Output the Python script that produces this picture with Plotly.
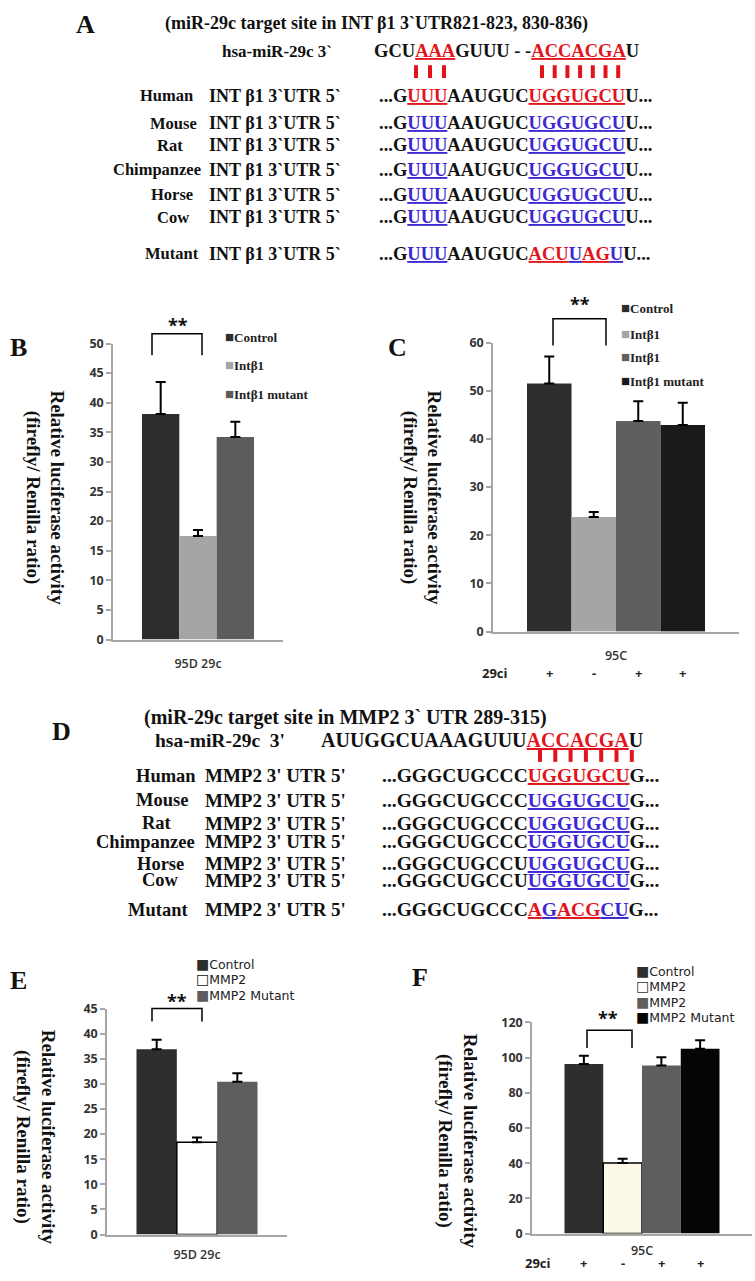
import plotly.graph_objects as go

# ------------------------------------------------------------------ data
b_category = "95D 29c"
b_groups = ["Control", "Intβ1", "Intβ1 mutant"]
b_values = [38.1, 17.5, 34.2]
b_errors = [5.4, 1.0, 2.6]

c_category = "95C"
c_groups = ["Control", "Intβ1", "Intβ1", "Intβ1 mutant"]
c_values = [51.5, 23.8, 43.7, 42.9]
c_errors = [5.6, 1.0, 4.1, 4.6]
c_29ci = ["+", "-", "+", "+"]

e_category = "95D 29c"
e_groups = ["Control", "MMP2", "MMP2 Mutant"]
e_values = [36.9, 18.4, 30.4]
e_errors = [1.9, 0.9, 1.7]

f_category = "95C"
f_groups = ["Control", "MMP2", "MMP2", "MMP2 Mutant"]
f_values = [96.3, 40.1, 95.5, 105.0]
f_errors = [4.7, 2.4, 4.7, 4.8]
f_29ci = ["+", "-", "+", "+"]

a_species = ["Human", "Mouse", "Rat", "Chimpanzee", "Horse", "Cow", "Mutant"]
d_species = ["Human", "Mouse", "Rat", "Chimpanzee", "Horse", "Cow", "Mutant"]

y_title = "Relative luciferase activity<br>(firefly/ Renilla ratio)"

# ------------------------------------------------------------------ helpers
W, H = 755, 1281
def px(x): return x / W
def py(y): return 1 - y / H

SERIF = "Liberation Serif"
SANS = "Open Sans"
RED = "#e3131b"
BLUE = "#3b27d4"
AXC = "#a6a6a6"

def ucol(t, c):
    return f"<span style='color:{c};text-decoration:underline;text-decoration-color:#111'>{t}</span>"

def sq(c, ch="■", size=15):
    return f"<span style='color:{c};font-size:{size}px'>{ch}</span>"

fig = go.Figure()
ann = []
shapes = []

def text(x, y, t, size, family=SERIF, bold=True, xa="center", ya="middle", color="#111", angle=0):
    ann.append(dict(x=px(x), y=py(y), xref="paper", yref="paper", text=t, showarrow=False,
                    xanchor=xa, yanchor=ya, textangle=angle, borderpad=0,
                    font=dict(family=family, size=size, color=color, weight="bold" if bold else "normal")))

BARGAP = 0.3

def add_panel(n, cat, groups, values, errors, colors, outlines, xdom, ydom, yrange, dtick, grp_px, standoff):
    xa, ya = ("x" if n == 1 else f"x{n}"), ("y" if n == 1 else f"y{n}")
    for g, v, e, c, o in zip(groups, values, errors, colors, outlines):
        fig.add_trace(go.Bar(
            x=[cat], y=[v], name=g, xaxis=xa, yaxis=ya,
            marker=dict(color=c, line=dict(color="black" if o else c, width=1.5 if o else 0)),
            error_y=dict(type="data", symmetric=False, array=[e], arrayminus=[0],
                         color="black", thickness=2, width=5),
        ))
    dom_w = xdom[1] - xdom[0]
    span = (1 - BARGAP) * dom_w / grp_px
    sfx = "" if n == 1 else str(n)
    fig.layout["xaxis" + sfx] = dict(
        domain=[px(xdom[0]), px(xdom[1])], anchor=ya, type="category",
        range=[-span / 2, span / 2], showline=True, linecolor=AXC, linewidth=1.5,
        ticks="", showgrid=False, zeroline=False, ticklabelstandoff=standoff,
        tickfont=dict(family=SANS, size=12.5, color="#333", weight=600), fixedrange=True)
    fig.layout["yaxis" + sfx] = dict(
        domain=[py(ydom[0]), py(ydom[1])], anchor=xa, range=yrange, dtick=dtick,
        showline=True, linecolor=AXC, linewidth=1.5, ticks="outside", ticklen=5,
        tickcolor=AXC, tickwidth=1.5, showgrid=False, zeroline=False,
        tickfont=dict(family=SANS, size=12.5, color="#333", weight=700), fixedrange=True)
    return span

# ------------------------------------------------------------------ bar panels
add_panel(1, b_category, b_groups, b_values, b_errors,
          ["#2d2d2d", "#a5a5a5", "#5c5c5c"], [False, False, False],
          (113, 283), (639, 339), [0, 50], 5, 112, 12)
add_panel(2, c_category, c_groups, c_values, c_errors,
          ["#2d2d2d", "#a5a5a5", "#5f5f5f", "#1a1a1a"], [False, False, False, False],
          (493, 739), (631, 338), [0, 60], 10, 178, 12)
add_panel(3, e_category, e_groups, e_values, e_errors,
          ["#2d2d2d", "#ffffff", "#5d5d5d"], [False, True, False],
          (107, 287), (1242, 1013), [0, 45], 5, 121, 8)
add_panel(4, f_category, f_groups, f_values, f_errors,
          ["#2e2e2e", "#fdf9e8", "#5e5e5e", "#050505"], [False, True, False, False],
          (532, 752), (1241, 1027), [0, 120], 20, 155, 5)

# 29ci rows (placed under each bar through the axis scale)
def sign_row(xref, signs, ypix, label_x):
    n = len(signs)
    bw = (1 - BARGAP) / n
    for i, s in enumerate(signs):
        ann.append(dict(x=-(1 - BARGAP) / 2 + bw * (i + 0.5), y=py(ypix), xref=xref, yref="paper",
                        text=s, showarrow=False, xanchor="center", yanchor="middle",
                        font=dict(family=SANS, size=13, color="#222", weight="bold")))
    text(label_x, ypix, "29ci", 13, family=SANS, color="#222")

sign_row("x2", c_29ci, 673, 495)
sign_row("x4", f_29ci, 1271, 538)

# y titles
text(45, 495, y_title, 19, angle=90)
text(422, 496, y_title, 19, angle=90)
text(35, 1143, y_title, 19, angle=90)
text(457, 1148, y_title, 19, angle=90)

# brackets with **
def bracket(x0, x1, ytop, ybot, sx, sy):
    shapes.append(dict(type="path", xref="paper", yref="paper",
                       path=f"M {px(x0)},{py(ybot)} L {px(x0)},{py(ytop)} L {px(x1)},{py(ytop)} L {px(x1)},{py(ybot)}",
                       line=dict(color="black", width=1.5)))
    text(sx, sy, "**", 18, family=SANS, color="#111")

bracket(152, 202, 329, 351, 178, 320)
bracket(553, 606, 314, 341, 580, 299)
bracket(152, 202, 1013, 1026, 177, 1005)
bracket(587, 632, 1035, 1053, 608, 1023)

# legends
def legend_items(x, ys, groups, squares, size, family, bold):
    for g, y, s in zip(groups, ys, squares):
        text(x, y, f"{s}{g}", size, family=family, xa="left", color="#222", bold=bold)

legend_items(224, [332, 361, 390], b_groups,
             [sq("#2d2d2d"), sq("#a5a5a5"), sq("#5c5c5c")], 13, SERIF, True)
legend_items(620, [303, 329, 353, 377], c_groups,
             [sq("#2d2d2d"), sq("#a5a5a5"), sq("#5f5f5f"), sq("#1a1a1a")], 13, SERIF, True)
legend_items(195, [968, 983, 999], e_groups,
             [sq("#2d2d2d", size=14), sq("#111", "□", 14), sq("#5d5d5d", size=14)], 12.5, "DejaVu Sans", False)
legend_items(635, [975, 990, 1006, 1022], f_groups,
             [sq("#2e2e2e", size=14), sq("#333", "□", 14), sq("#5e5e5e", size=14), sq("#050505", size=14)],
             12.5, "DejaVu Sans", False)

# panel letters
for L, x, y in [("A", 85, 16), ("B", 18, 343), ("C", 397, 343), ("D", 61, 732), ("E", 18, 985), ("F", 420, 982)]:
    text(x, y, L, 26)

# ------------------------------------------------------------------ panel A (sequences)
text(376, 15, "(miR-29c target site in INT β1 3`UTR821-823, 830-836)", 18)
text(333, 43, "hsa-miR-29c 3`", 17, xa="right")
text(373, 43, "GCU" + ucol("AAA", RED) + "GUUU - -" + ucol("ACCACGA", RED) + "U", 18.5, xa="left")

a_seqs = [
    "...G" + ucol("UUU", RED) + "AAUGUC" + ucol("UGGUGCU", RED) + "U...",
    "...G" + ucol("UUU", BLUE) + "AAUGUC" + ucol("UGGUGCU", BLUE) + "U...",
    "...G" + ucol("UUU", BLUE) + "AAUGUC" + ucol("UGGUGCU", BLUE) + "U...",
    "...G" + ucol("UUU", BLUE) + "AAUGUC" + ucol("UGGUGCU", BLUE) + "U...",
    "...G" + ucol("UUU", BLUE) + "AAUGUC" + ucol("UGGUGCU", BLUE) + "U...",
    "...G" + ucol("UUU", BLUE) + "AAUGUC" + ucol("UGGUGCU", BLUE) + "U...",
    "...G" + ucol("UUU", BLUE) + "AAUGUC" + ucol("ACU", RED) + ucol("U", BLUE) + ucol("AG", RED)
    + ucol("U", BLUE) + "U...",
]
a_rows_y = [88, 116, 138, 163, 188, 211, 248]
a_name_x = [166, 173, 170, 157, 172, 173, 172]
for sp, sqn, y, nx in zip(a_species, a_seqs, a_rows_y, a_name_x):
    text(nx, y, sp, 16.5)
    text(208, y, "INT β1 3`UTR 5`", 18, xa="left")
    text(378, y, sqn, 18.5, xa="left")

for i in range(3):
    x = 416 + i * 14
    shapes.append(dict(type="line", xref="paper", yref="paper", x0=px(x), x1=px(x), y0=py(57), y1=py(70),
                       line=dict(color=RED, width=4)))
for i in range(7):
    x = 542 + i * 12.7
    shapes.append(dict(type="line", xref="paper", yref="paper", x0=px(x), x1=px(x), y0=py(57), y1=py(70),
                       line=dict(color=RED, width=4)))

# ------------------------------------------------------------------ panel D (sequences)
text(345, 718, "(miR-29c target site in MMP2 3` UTR 289-315)", 20)
text(154, 741, "hsa-miR-29c  3'", 19.5, xa="left")
text(320, 741, "AUUGGCUAAAGUUU" + ucol("ACCACGA", RED) + "U", 20, xa="left")

d_seqs = [
    "...GGGCUGCCC" + ucol("UGGUGCU", RED) + "G...",
    "...GGGCUGCCC" + ucol("UGGUGCU", BLUE) + "G...",
    "...GGGCUGCCC" + ucol("UGGUGCU", BLUE) + "G...",
    "...GGGCUGCCC" + ucol("UGGUGCU", BLUE) + "G...",
    "...GGGCUGCCU" + ucol("UGGUGCU", BLUE) + "G...",
    "...GGGCUGCCU" + ucol("UGGUGCU", BLUE) + "G...",
    "...GGGCUGCCC" + ucol("A", RED) + ucol("G", BLUE) + ucol("ACG", RED) + ucol("CU", BLUE) + "G...",
]
d_rows_y = [777, 802, 825, 844, 866, 883, 913]
d_name_x = [166, 162, 157, 145, 160, 160, 158]
for sp, sqn, y, nx in zip(d_species, d_seqs, d_rows_y, d_name_x):
    text(nx, y, sp, 18.5)
    text(204, y, "MMP2 3' UTR 5'", 19, xa="left")
    text(381, y, sqn, 19.5, xa="left")

for i in range(7):
    x = 540 + i * 15.3
    shapes.append(dict(type="line", xref="paper", yref="paper", x0=px(x), x1=px(x), y0=py(751), y1=py(763),
                       line=dict(color=RED, width=4)))

fig.update_layout(
    width=W, height=H, margin=dict(l=0, r=0, t=0, b=0),
    paper_bgcolor="white", plot_bgcolor="white",
    barmode="group", bargap=BARGAP, bargroupgap=0,
    showlegend=False, annotations=ann, shapes=shapes, hovermode=False,
)

fig.write_html("out.html", config={"displayModeBar": False},
               post_script="document.body.style.margin='0';")
